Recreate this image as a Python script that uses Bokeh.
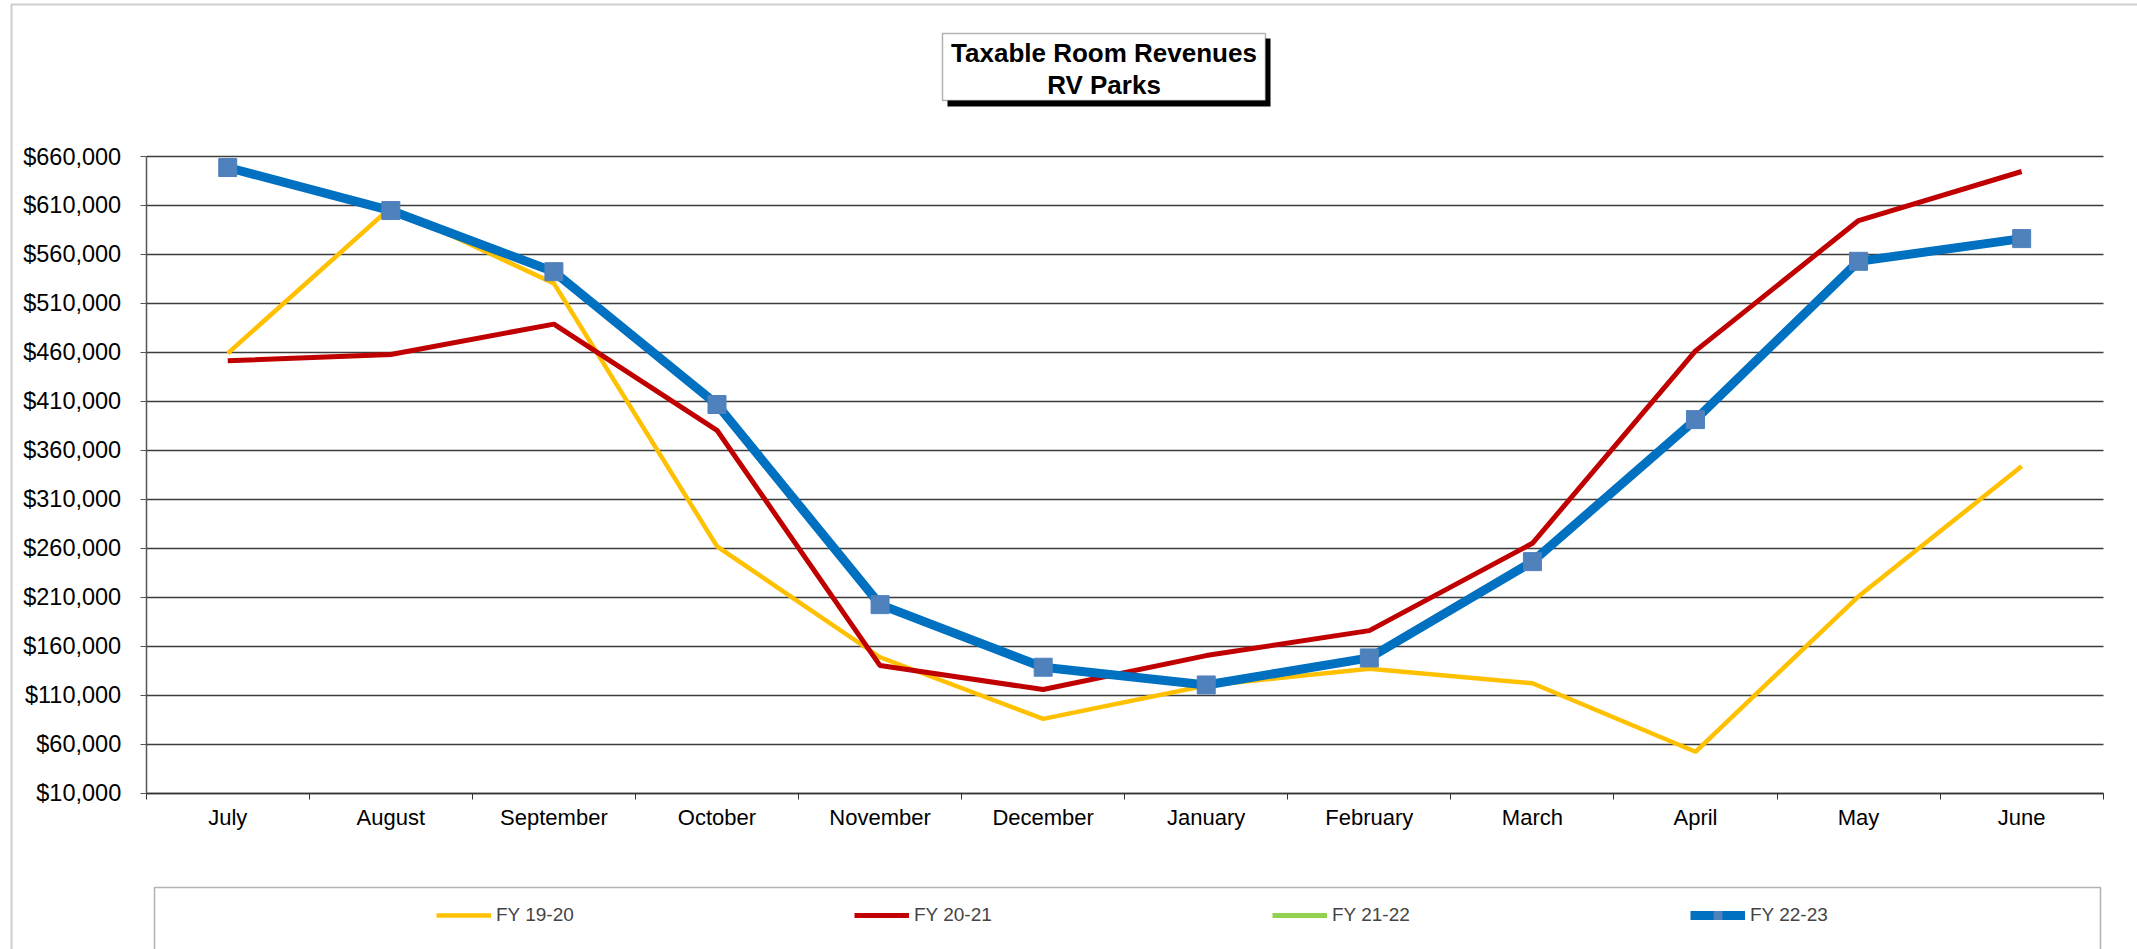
from bokeh.plotting import figure
from bokeh.models import (FixedTicker, NumeralTickFormatter, Legend, LegendItem,
                          BoxAnnotation, Label)
from bokeh.embed import file_html
from bokeh.resources import INLINE

# ---------------- data ----------------
months = ["July", "August", "September", "October", "November", "December",
          "January", "February", "March", "April", "May", "June"]
fy_19_20 = [459000, 608000, 530500, 262000, 148800, 85900,
            120000, 137000, 122200, 52300, 211000, 343700]
fy_20_21 = [451400, 457900, 488900, 380500, 140300, 115800,
            150500, 176000, 265100, 461600, 594600, 644700]
# FY 21-22 has no values drawn in the reference (legend entry only): all missing
fy_21_22 = [float("nan")] * 12
fy_22_23 = [648750, 604800, 542400, 406800, 202500, 138600,
            120500, 148100, 246400, 391400, 553000, 576200]
y_ticks = [10000, 60000, 110000, 160000, 210000, 260000, 310000,
           360000, 410000, 460000, 510000, 560000, 610000, 660000]
title_lines = ["Taxable Room Revenues", "RV Parks"]
series_names = ["FY 19-20", "FY 20-21", "FY 21-22", "FY 22-23"]

# ---------------- layout (pixels) ----------------
W, H = 2137, 949
AX_LEFT, AX_RIGHT = 145.7, 2102.7      # plot area in canvas pixels
AX_TOP, AX_BOTTOM = 156.0, 792.7
FONT = "Liberation Sans"

n = len(months)
x = list(range(n))
x_lo, x_hi = -0.5, n - 0.5
y_lo, y_hi = y_ticks[0], y_ticks[-1]
ux = (x_hi - x_lo) / (AX_RIGHT - AX_LEFT)
uy = (y_hi - y_lo) / (AX_BOTTOM - AX_TOP)
xr = (x_lo - AX_LEFT * ux, x_hi + (W - AX_RIGHT) * ux)
yr = (y_lo - (H - AX_BOTTOM) * uy, y_hi + AX_TOP * uy)

p = figure(width=W, height=H, x_range=xr, y_range=yr, output_backend="svg",
           toolbar_location=None, min_border=0)
p.outline_line_color = None
p.background_fill_color = "white"
p.border_fill_color = "white"

# grid
p.xgrid.visible = False
p.ygrid.ticker = FixedTicker(ticks=y_ticks)
p.ygrid.grid_line_color = "#3c3c3c"
p.ygrid.grid_line_width = 1.5
p.ygrid.bounds = (y_lo, y_hi)
p.ygrid.cross_bounds = (x_lo, x_hi)

# y axis
ya = p.yaxis[0]
ya.fixed_location = x_lo
ya.bounds = (y_lo, y_hi)
ya.ticker = FixedTicker(ticks=y_ticks)
ya.formatter = NumeralTickFormatter(format="$0,0")
ya.major_label_text_font = FONT
ya.major_label_text_font_size = "23.5px"
ya.major_label_text_color = "black"
ya.axis_line_color = "#555555"
ya.axis_line_width = 1.5
ya.major_tick_line_color = "#555555"
ya.major_tick_out = 6
ya.major_tick_in = 0
ya.minor_tick_line_color = None
ya.major_label_standoff = 19

# x axis
xa = p.xaxis[0]
xa.fixed_location = y_lo
xa.bounds = (x_lo, x_hi)
xa.ticker = FixedTicker(ticks=x, minor_ticks=[i - 0.5 for i in range(n + 1)])
xa.major_label_overrides = {i: m for i, m in zip(x, months)}
xa.major_label_text_font = FONT
xa.major_label_text_font_size = "22px"
xa.major_label_text_color = "black"
xa.axis_line_color = "#333333"
xa.axis_line_width = 1.5
xa.major_tick_line_color = None
xa.major_tick_out = 0
xa.major_tick_in = 0
xa.minor_tick_line_color = "#333333"
xa.minor_tick_out = 6
xa.minor_tick_in = 0
xa.major_label_standoff = 6

# series
r1 = p.line(x, fy_19_20, line_color="#FFC000", line_width=4.5)
r2 = p.line(x, fy_20_21, line_color="#C00000", line_width=5)
r3 = p.line(x, fy_21_22, line_color="#92D050", line_width=5)
r4 = p.line(x, fy_22_23, line_color="#0070C0", line_width=9)
r5 = p.scatter(x, fy_22_23, marker="square", size=18,
               fill_color="#4F81BD", line_color="#4F81BD")

# decorative boxes (canvas units)
def cbox(l, r, t, b, **kw):
    return BoxAnnotation(left=l, right=r, top=t, bottom=b,
                         left_units="canvas", right_units="canvas",
                         top_units="canvas", bottom_units="canvas", **kw)

outer = cbox(11, W + 100, 4, H + 100, fill_alpha=0, line_color="#5a5a5a", line_width=2)
lbox = cbox(154, 2100, 887, H + 100, fill_alpha=0, line_color="black", line_width=1.5)
shadow = cbox(947, 1270, 38, 106, fill_color="black", fill_alpha=1, line_color=None)
tbox = cbox(942, 1265, 33, 100, fill_color="white", fill_alpha=1,
            line_color="black", line_width=1.5)
for b in (outer, lbox, shadow, tbox):
    p.add_layout(b)

for txt, yy in zip(title_lines, [52, 84]):
    p.add_layout(Label(x=1103.5, y=yy, x_units="canvas", y_units="canvas", text=txt,
                       text_align="center", text_baseline="middle",
                       text_font=FONT, text_font_size="26px", text_font_style="bold",
                       text_color="black"))

legend = Legend(items=[LegendItem(label=series_names[0], renderers=[r1]),
                       LegendItem(label=series_names[1], renderers=[r2]),
                       LegendItem(label=series_names[2], renderers=[r3]),
                       LegendItem(label=series_names[3], renderers=[r4, r5])],
                location=(436, H - 926), orientation="horizontal", spacing=278,
                padding=0, margin=0, glyph_width=55, glyph_height=20,
                label_width=80, label_standoff=5, label_height=20,
                label_text_font=FONT, label_text_font_size="19px",
                border_line_color=None, background_fill_alpha=0)
p.add_layout(legend)

open("out.html", "w").write(file_html(p, INLINE))
